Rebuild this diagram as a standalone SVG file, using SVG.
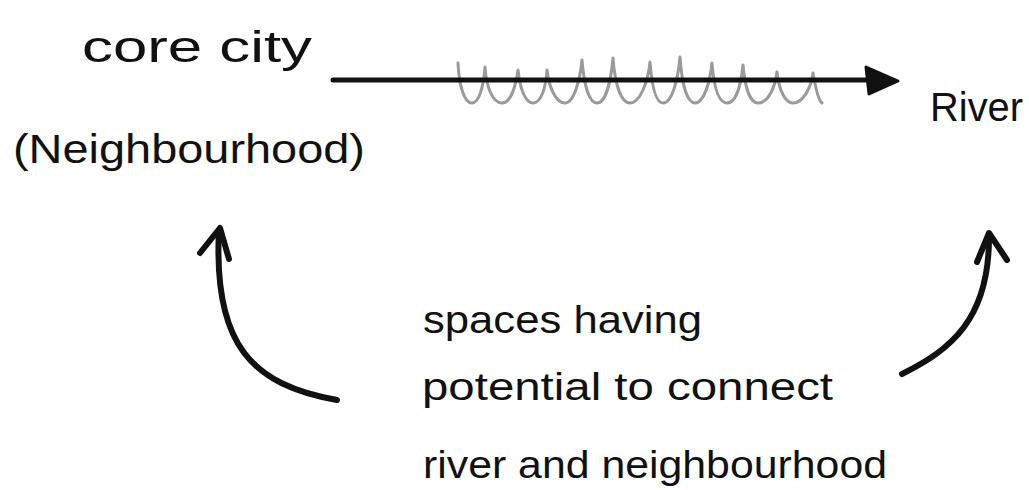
<svg xmlns="http://www.w3.org/2000/svg" width="1029" height="490" viewBox="0 0 1029 490">
  <style>
    .t { font-family: "Liberation Sans", Arial, sans-serif; fill: #111; }
    .ink { fill: none; stroke: #111; stroke-linecap: round; stroke-linejoin: round; }
    .wave { fill: none; stroke: #9a9a9a; stroke-width: 3; stroke-linecap: round; stroke-linejoin: round; }
  </style>
  <rect width="1029" height="490" fill="#ffffff"/>

  <g id="node-core-city">
    <text class="t" x="82" y="62" font-size="44" textLength="230" lengthAdjust="spacingAndGlyphs">core city</text>
    <text class="t" x="13" y="163" font-size="40" textLength="352" lengthAdjust="spacingAndGlyphs">(Neighbourhood)</text>
  </g>

  <g id="node-river">
    <text class="t" x="930" y="121" font-size="40" textLength="93" lengthAdjust="spacingAndGlyphs">River</text>
  </g>

  <g id="node-spaces">
    <text class="t" x="423" y="333" font-size="38" textLength="279" lengthAdjust="spacingAndGlyphs">spaces having</text>
    <text class="t" x="422" y="400" font-size="38" textLength="411" lengthAdjust="spacingAndGlyphs">potential to connect</text>
    <text class="t" x="423" y="478" font-size="38" textLength="464" lengthAdjust="spacingAndGlyphs">river and neighbourhood</text>
  </g>

  <g id="connectors">
    <!-- wavy gray line -->
    <path class="wave" d="M458,63 C459,85 464,103 472,103 C480,103 484,82 485,67
      C486,85 492,103 502,103 C511,103 516,85 518,70
      C520,88 525,103 533,103 C542,103 546,85 547,70
      C549,88 556,103 565,103 C574,103 580,80 582,60
      C584,85 589,103 597,103 C606,103 611,80 613,58
      C615,85 621,103 630,103 C640,103 648,82 650,62
      C652,88 656,103 663,103 C672,103 678,80 680,57
      C682,85 687,103 695,103 C704,103 710,82 712,63
      C714,88 719,103 727,103 C736,103 741,85 743,65
      C745,88 750,103 758,103 C768,103 775,88 777,72
      C779,90 785,103 793,103 C803,103 811,88 813,73
      C815,85 818,100 822,103"/>
    <!-- main straight arrow -->
    <line class="ink" x1="333" y1="80" x2="872" y2="80" stroke-width="5"/>
    <path d="M866,67 L898,81 L869,94 Z" fill="#111" stroke="#111" stroke-width="3" stroke-linejoin="round"/>
    <!-- left curved arrow -->
    <path class="ink" stroke-width="6" d="M337,400 C252,385 213,345 219,230"/>
    <path class="ink" stroke-width="6" d="M200,253 L220,228 L229,259"/>
    <!-- right curved arrow -->
    <path class="ink" stroke-width="6" d="M902,374 C950,350 990,320 989,234"/>
    <path class="ink" stroke-width="6" d="M977,262 L989,233 L1007,260"/>
  </g>
</svg>
